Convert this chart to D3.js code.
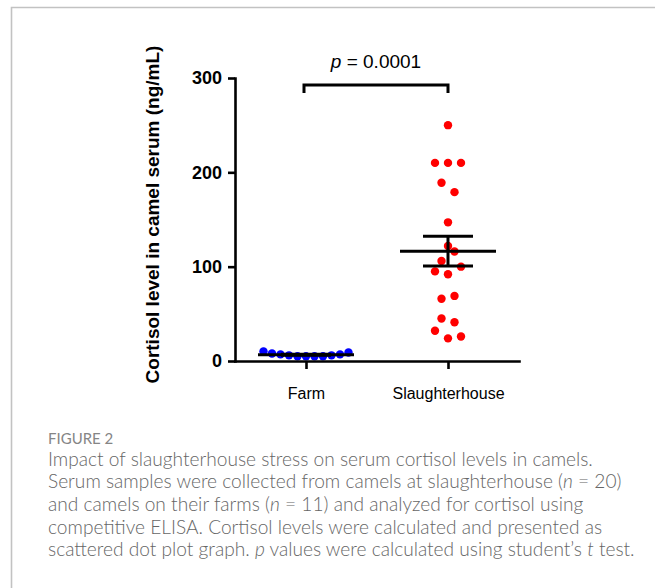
<!DOCTYPE html>
<html><head><meta charset="utf-8">
<script src="https://cdn.jsdelivr.net/npm/d3@7"></script>
<style>html,body{margin:0;padding:0;background:#fff}</style>
</head><body>
<svg id="chart" width="655" height="588"></svg>
<script>
// ---- data ----
const categories = ["Farm", "Slaughterhouse"];
const farmValues = [10, 8, 7, 6, 5, 5, 5, 5, 6, 7, 9];
const slaughterhouseValues = [250, 210, 210, 210, 189, 179, 147, 122, 106, 116, 95, 92, 100, 66, 69, 45, 41, 32, 24, 26];
const yTickValues = [0, 100, 200, 300];
const yDomain = [0, 300];
const yTitle = "Cortisol level in camel serum (ng/mL)";
const pValue = "0.0001";
const figureLabel = "FIGURE 2";
const captionLines = [
  [["Impact of slaughterhouse stress on serum cortisol levels in camels.", false]],
  [["Serum samples were collected from camels at slaughterhouse (", false], ["n", true], [" = 20)", false]],
  [["and camels on their farms (", false], ["n", true], [" = 11) and analyzed for cortisol using", false]],
  [["competitive ELISA. Cortisol levels were calculated and presented as", false]],
  [["scattered dot plot graph. ", false], ["p", true], [" values were calculated using student\u2019s ", false], ["t", true], [" test.", false]]
];

// ---- chart ----
const W = 655, H = 588;
const svg = d3.select("#chart");
svg.append("rect").attr("width", W).attr("height", H).attr("fill", "#fff");
svg.append("path").attr("d", "M11.5,588V7.5H655").attr("fill", "none")
  .attr("stroke", "#c2c2c2").attr("stroke-width", 1.6);

const y = d3.scaleLinear().domain(yDomain).range([361, 78]);
const x = d3.scalePoint().domain(categories).range([235, 519]).padding(0.5);

const series = [
  {cat: categories[0], values: farmValues, color: "#0000ff"},
  {cat: categories[1], values: slaughterhouseValues, color: "#ff0000"}
];

// column-scatter layout: values binned into rows, spread symmetrically within a row
const binW = 14.3, binO = 4.4, slot = 13, maxSpan = 85, r = 4.2;
function swarm(values) {
  const rows = d3.group(values.map((v, i) => ({v, i})), d => Math.floor((d.v - binO) / binW));
  const out = [];
  rows.forEach(row => {
    const n = row.length;
    const step = n > 1 ? Math.min(slot, maxSpan / (n - 1)) : 0;
    row.forEach((d, k) => out.push({v: d.v, dx: (k - (n - 1) / 2) * step}));
  });
  return out;
}

const fontArial = "'Liberation Sans', Arial, Helvetica, sans-serif";

series.forEach(s => {
  const cx = x(s.cat);
  svg.append("g").selectAll("circle").data(swarm(s.values)).join("circle")
    .attr("cx", d => cx + d.dx).attr("cy", d => y(d.v)).attr("r", r).attr("fill", s.color);
});

series.forEach(s => {
  const cx = x(s.cat);
  const m = d3.mean(s.values);
  const sem = d3.deviation(s.values) / Math.sqrt(s.values.length);
  const g = svg.append("g").attr("stroke", "#000").attr("stroke-width", 3).attr("fill", "none");
  g.append("line").attr("x1", cx - 48).attr("x2", cx + 48).attr("y1", y(m)).attr("y2", y(m));
  g.append("line").attr("x1", cx).attr("x2", cx).attr("y1", y(m - sem)).attr("y2", y(m + sem));
  [m - sem, m + sem].forEach(v => g.append("line").attr("x1", cx - 25).attr("x2", cx + 25).attr("y1", y(v)).attr("y2", y(v)));
});

// axes
const gy = svg.append("g").attr("transform", "translate(235,0)")
  .call(d3.axisLeft(y).tickValues(yTickValues).tickSize(7).tickSizeOuter(0).tickPadding(6));
gy.selectAll("text").attr("font-family", fontArial).attr("font-weight", "bold").attr("font-size", 18).attr("fill", "#000");

const gx = svg.append("g").attr("transform", "translate(0,361)")
  .call(d3.axisBottom(x).tickSize(8).tickSizeOuter(0).tickPadding(19));
gx.selectAll("text").attr("font-family", fontArial).attr("font-size", 16).attr("fill", "#000");

[gx, gy].forEach(g => {
  g.select(".domain").attr("stroke", "#000").attr("stroke-width", 2.6).attr("stroke-linecap", "square");
  g.selectAll(".tick line").attr("stroke", "#000").attr("stroke-width", 2.6);
});

svg.append("text")
  .attr("transform", `translate(159,${(y(yDomain[0]) + y(yDomain[1])) / 2 - 5}) rotate(-90)`)
  .attr("text-anchor", "middle").attr("font-family", fontArial).attr("font-weight", "bold")
  .attr("font-size", 19).attr("fill", "#000").text(yTitle);

// significance bracket
const x0 = x(categories[0]) - 2, x1 = x(categories[1]);
const by = y(yDomain[1]) + 7;
svg.append("path").attr("d", `M${x0},${by + 8}V${by}H${x1}V${by + 8}`)
  .attr("fill", "none").attr("stroke", "#000").attr("stroke-width", 3);
const pt = svg.append("text").attr("x", (x0 + x1) / 2).attr("y", 68).attr("text-anchor", "middle")
  .attr("font-family", fontArial).attr("font-size", 19).attr("fill", "#000");
pt.append("tspan").attr("font-style", "italic").text("p");
pt.append("tspan").text(" = " + pValue);

// caption
const capFont = "Lato, 'Open Sans', sans-serif";
svg.append("text").attr("x", 48).attr("y", 444).attr("font-family", capFont)
  .attr("font-size", 15).attr("font-weight", 400).attr("fill", "#858585").text(figureLabel);

const capG = svg.append("g").attr("font-family", capFont).attr("font-weight", 300).attr("fill", "#666");
const lineTexts = captionLines.map((parts, i) => {
  const t = capG.append("text").attr("x", 48).attr("y", 465.5 + i * 22.7).attr("font-size", 17);
  parts.forEach(([s, it]) => t.append("tspan").attr("font-style", it ? "italic" : "normal").text(s));
  return t;
});
// fit font size so line 2 spans the measured caption width
const w1 = lineTexts[1].node().getComputedTextLength();
const fs = 17 * 574 / w1;
lineTexts.forEach(t => t.attr("font-size", fs));
</script>
</body></html>
